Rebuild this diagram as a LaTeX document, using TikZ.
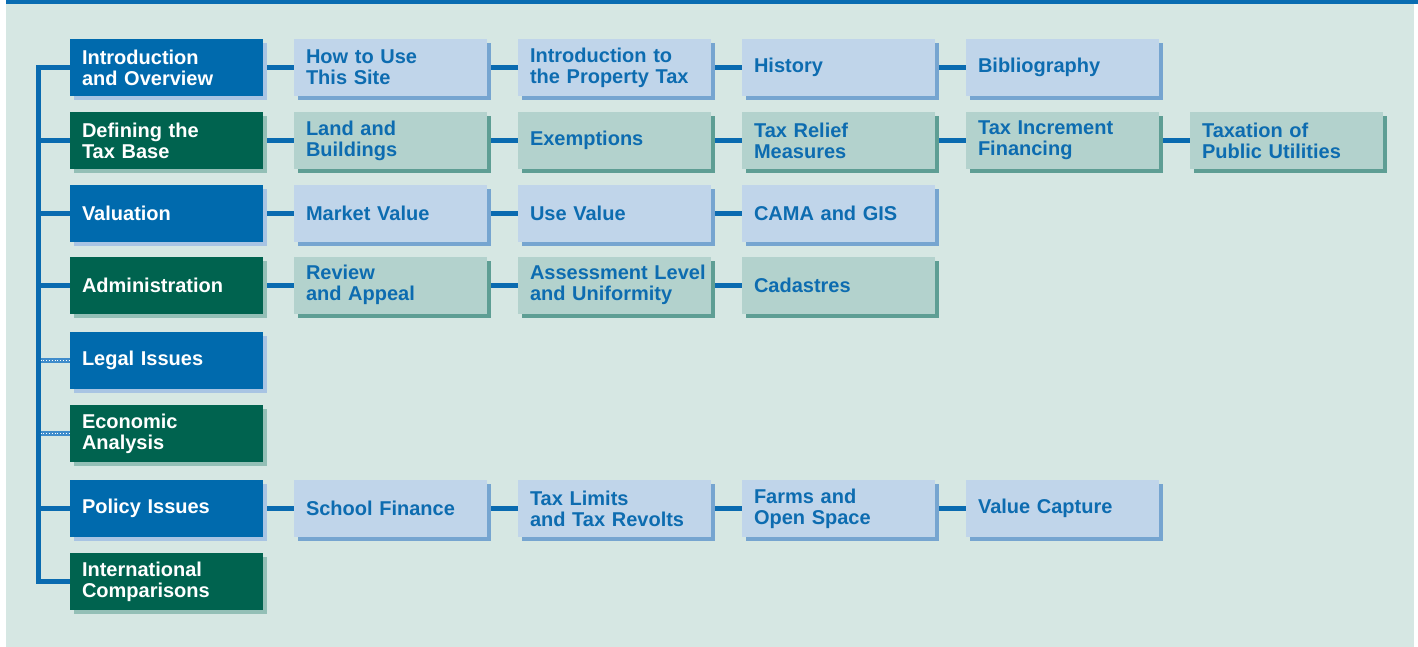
\documentclass[tikz,border=0pt]{standalone}
\usepackage{fontspec}
\setmainfont{Liberation Sans}
\usetikzlibrary{shadows}

\definecolor{pagebg}{HTML}{D6E7E3}
\definecolor{topbar}{HTML}{0A6DB2}
\definecolor{deepblue}{HTML}{006AAD}
\definecolor{deepblueshade}{HTML}{A8C4E3}
\definecolor{deepgreen}{HTML}{00634F}
\definecolor{deepgreenshade}{HTML}{93BFB6}
\definecolor{paleblue}{HTML}{C0D5EA}
\definecolor{paleblueshade}{HTML}{76A5D0}
\definecolor{paleteal}{HTML}{B3D2CD}
\definecolor{paletealshade}{HTML}{5E9E94}
\definecolor{inkblue}{HTML}{0D6CB0}
\definecolor{linkblue}{HTML}{0A6BB0}
\definecolor{dotblue}{HTML}{3F8CCB}

\pgfdeclarelayer{bg}
\pgfsetlayers{bg,main}

\tikzset{
	box/.style={rectangle, minimum width=193pt, minimum height=57pt,
		text width=169pt, inner xsep=12pt, inner ysep=0pt, align=left,
		font=\fontsize{20}{21}\selectfont\bfseries,
		execute at begin node={\hfuzz=30pt}},
	topic/.style={box, text=white, fill=#1,
		drop shadow={shadow xshift=4pt, shadow yshift=-4pt, fill=#1shade, opacity=1}},
	subtopic/.style={box, text=inkblue, fill=#1,
		drop shadow={shadow xshift=4pt, shadow yshift=-4pt, fill=#1shade, opacity=1}},
	link/.style={draw=linkblue, line width=5pt},
	dotlink/.style={draw=dotblue, line width=5pt,
		postaction={draw=white, line width=1.2pt, dash pattern=on 0.8pt off 2pt}}
}

\begin{document}
\begin{tikzpicture}[x=1pt, y=-1pt]
		\useasboundingbox (0,0) rectangle (1418,647);

		% topics down the left
		\draw (166.5,67.5) node [topic=deepblue] (intro) {Introduction\\and Overview};
		\draw (166.5,140.5) node [topic=deepgreen] (base) {Defining the\\Tax Base};
		\draw (166.5,213.5) node [topic=deepblue] (valuation) {Valuation};
		\draw (166.5,285) node [topic=deepgreen] (admin) {Administration};
		\draw (166.5,360.5) node [topic=deepblue] (legal) {Legal Issues};
		\draw (166.5,433.5) node [topic=deepgreen] (econ) {Economic\\Analysis};
		\draw (166.5,508.5) node [topic=deepblue] (policy) {Policy Issues};
		\draw (166.5,581.5) node [topic=deepgreen] (intl) {International\\Comparisons};

		% first row
		\draw (390.5,67.5) node [subtopic=paleblue] (howto) {How to Use\\This Site};
		\draw (614.5,67.5) node [subtopic=paleblue] (introtax) {Introduction to\\the Property Tax};
		\draw (838.5,67.5) node [subtopic=paleblue] (history) {History};
		\draw (1062.5,67.5) node [subtopic=paleblue] (biblio) {Bibliography};

		% second row
		\draw (390.5,140.5) node [subtopic=paleteal] (land) {Land and\\Buildings};
		\draw (614.5,140.5) node [subtopic=paleteal] (exempt) {Exemptions};
		\draw (838.5,140.5) node [subtopic=paleteal] (relief) {Tax Relief\\Measures};
		\draw (1062.5,140.5) node [subtopic=paleteal] (tif) {Tax Increment\\Financing};
		\draw (1286.5,140.5) node [subtopic=paleteal] (utilities) {Taxation of\\Public Utilities};

		% third row
		\draw (390.5,213.5) node [subtopic=paleblue] (market) {Market Value};
		\draw (614.5,213.5) node [subtopic=paleblue] (use) {Use Value};
		\draw (838.5,213.5) node [subtopic=paleblue] (cama) {CAMA and GIS};

		% fourth row
		\draw (390.5,285) node [subtopic=paleteal] (review) {Review\\and Appeal};
		\draw (614.5,285) node [subtopic=paleteal] (assess) {Assessment~Level\\and Uniformity};
		\draw (838.5,285) node [subtopic=paleteal] (cadastre) {Cadastres};

		% policy row
		\draw (390.5,508.5) node [subtopic=paleblue] (school) {School Finance};
		\draw (614.5,508.5) node [subtopic=paleblue] (limits) {Tax Limits\\and Tax Revolts};
		\draw (838.5,508.5) node [subtopic=paleblue] (farms) {Farms and\\Open Space};
		\draw (1062.5,508.5) node [subtopic=paleblue] (capture) {Value Capture};

		\begin{pgfonlayer}{bg}
			\fill[white] (0,0) rectangle (1418,647);
			\fill[pagebg] (6,4) rectangle (1414,647);
			\fill[topbar] (6,0) rectangle (1418,4);

			% spine
			\coordinate (spine) at (38,0);
			\draw[link, line join=miter]
				(intro.west) -- (intro.west -| spine) -- (intl.west -| spine) -- (intl.west);
			\draw[link] (base.west -| spine) -- (base.west);
			\draw[link] (valuation.west -| spine) -- (valuation.west);
			\draw[link] (admin.west -| spine) -- (admin.west);
			\draw[link] (policy.west -| spine) -- (policy.west);
			\draw[dotlink] ([xshift=2.5pt]legal.west -| spine) -- (legal.west);
			\draw[dotlink] ([xshift=2.5pt]econ.west -| spine) -- (econ.west);

			\draw[link]
				(intro) edge (howto) (howto) edge (introtax)
				(introtax) edge (history) (history) edge (biblio)
				(base) edge (land) (land) edge (exempt) (exempt) edge (relief)
				(relief) edge (tif) (tif) edge (utilities)
				(valuation) edge (market) (market) edge (use) (use) edge (cama)
				(admin) edge (review) (review) edge (assess) (assess) edge (cadastre)
				(policy) edge (school) (school) edge (limits)
				(limits) edge (farms) (farms) edge (capture)
			;
		\end{pgfonlayer}
	\end{tikzpicture}
\end{document}
